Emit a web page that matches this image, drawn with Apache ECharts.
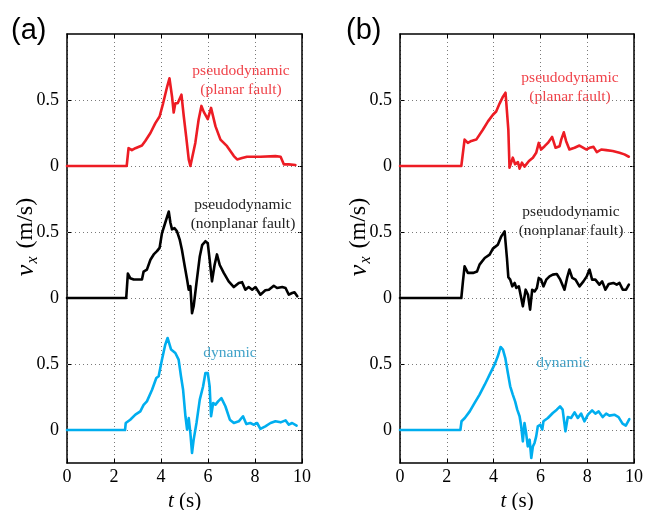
<!DOCTYPE html>
<html>
<head>
<meta charset="utf-8">
<script src="https://cdn.jsdelivr.net/npm/echarts@6/dist/echarts.min.js"></script>
<style>html,body{margin:0;padding:0;background:#fff}#c{width:647px;height:510px}</style>
</head>
<body>
<div id="c"></div>
<script>
// ---- data (t in s, v_x in m/s) ----
const xTicks = [0, 2, 4, 6, 8, 10];
const yTickValues = [0, 0.5, 1, 1.5, 2, 2.5];
const yTickLabels = ['0', '0.5', '0', '0.5', '0', '0.5'];
const traceOffsets = { planar: 2, nonplanar: 1, dynamic: 0 };

const planarA = [[0,0],[2.54,0],[2.62,0.135],[2.76,0.12],[2.91,0.135],[3.19,0.155],[3.33,0.19],[3.55,0.25],[3.76,0.325],[3.94,0.375],[4.09,0.475],[4.26,0.6],[4.36,0.665],[4.47,0.525],[4.54,0.405],[4.61,0.475],[4.71,0.475],[4.78,0.46],[4.87,0.54],[4.97,0.375],[5.07,0.225],[5.18,0.05],[5.25,0],[5.32,0.01],[5.46,0.175],[5.6,0.35],[5.72,0.455],[5.82,0.41],[5.99,0.355],[6.13,0.44],[6.32,0.3],[6.53,0.2],[6.81,0.15],[7.1,0.075],[7.24,0.05],[7.45,0.06],[7.66,0.07],[8.23,0.07],[8.87,0.075],[9.09,0.07],[9.23,0.012],[9.44,0.012],[9.72,0.008]];
const nonplanarA = [[0,0],[2.52,0],[2.59,0.185],[2.69,0.15],[2.84,0.14],[3.05,0.14],[3.19,0.14],[3.26,0.2],[3.4,0.215],[3.55,0.29],[3.69,0.33],[3.83,0.355],[3.94,0.38],[4.04,0.49],[4.18,0.57],[4.33,0.655],[4.4,0.57],[4.47,0.52],[4.57,0.53],[4.68,0.505],[4.8,0.44],[4.89,0.365],[5.01,0.24],[5.11,0.14],[5.18,0.063],[5.25,0.09],[5.32,-0.115],[5.39,-0.063],[5.51,0.114],[5.65,0.315],[5.75,0.4],[5.89,0.43],[5.99,0.415],[6.07,0.29],[6.17,0.126],[6.28,0.25],[6.38,0.33],[6.5,0.25],[6.67,0.19],[6.88,0.126],[7.1,0.083],[7.31,0.114],[7.45,0.12],[7.59,0.063],[7.73,0.083],[7.88,0.063],[8.02,0.083],[8.23,0.025],[8.44,0.058],[8.59,0.063],[8.8,0.093],[8.94,0.076],[9.16,0.083],[9.3,0.076],[9.44,0.025],[9.58,0.038],[9.68,0.043],[9.8,0.013]];
const dynamicA = [[0,0],[2.47,0],[2.5,0.053],[2.69,0.078],[2.91,0.116],[3.12,0.141],[3.26,0.19],[3.4,0.217],[3.62,0.305],[3.8,0.394],[3.9,0.407],[4.04,0.533],[4.18,0.646],[4.28,0.697],[4.35,0.697],[4.43,0.609],[4.61,0.583],[4.75,0.533],[4.85,0.407],[4.94,0.305],[5.04,0.104],[5.11,0.003],[5.18,0.09],[5.25,-0.023],[5.32,-0.174],[5.39,-0.073],[5.51,0.053],[5.65,0.23],[5.79,0.33],[5.89,0.432],[5.99,0.432],[6.07,0.33],[6.13,0.104],[6.22,0.205],[6.32,0.192],[6.43,0.217],[6.57,0.242],[6.74,0.18],[6.93,0.078],[7.1,0.053],[7.31,0.066],[7.49,0.104],[7.63,0.045],[7.8,0.053],[7.94,0.04],[8.09,0.053],[8.23,0.008],[8.44,0.028],[8.66,0.053],[8.87,0.066],[9.09,0.058],[9.3,0.073],[9.44,0.04],[9.58,0.053],[9.77,0.033]];

const planarB = [[0,0],[2.62,0],[2.76,0.2],[2.9,0.175],[3.05,0.19],[3.26,0.2],[3.33,0.21],[3.54,0.275],[3.76,0.338],[3.97,0.388],[4.11,0.413],[4.26,0.475],[4.4,0.525],[4.51,0.555],[4.57,0.55],[4.63,0.275],[4.68,-0.013],[4.75,-0.02],[4.82,0.063],[4.92,0.013],[5.04,0.03],[5.11,-0.02],[5.21,0.025],[5.32,-0.005],[5.51,0.038],[5.68,0.063],[5.82,0.1],[5.93,0.175],[6.03,0.125],[6.18,0.15],[6.32,0.175],[6.5,0.22],[6.65,0.138],[6.82,0.15],[6.89,0.2],[7.0,0.255],[7.1,0.188],[7.24,0.125],[7.46,0.138],[7.67,0.155],[7.84,0.138],[7.96,0.125],[8.1,0.138],[8.27,0.145],[8.41,0.105],[8.6,0.125],[8.81,0.12],[9.09,0.113],[9.38,0.1],[9.59,0.088],[9.78,0.07]];
const nonplanarB = [[0,0],[2.62,0],[2.69,0.126],[2.76,0.24],[2.9,0.19],[3.12,0.19],[3.29,0.2],[3.4,0.253],[3.62,0.303],[3.83,0.328],[3.97,0.374],[4.18,0.404],[4.33,0.467],[4.47,0.505],[4.51,0.49],[4.57,0.303],[4.63,0.157],[4.71,0.139],[4.8,0.088],[4.9,0.114],[4.97,0.076],[5.08,0.088],[5.18,0],[5.25,-0.063],[5.37,0.063],[5.47,0.025],[5.56,-0.088],[5.65,0.063],[5.75,0.05],[5.85,0.076],[5.93,0.152],[6.03,0.139],[6.13,0.088],[6.25,0.139],[6.39,0.164],[6.53,0.177],[6.7,0.182],[6.85,0.139],[7.03,0.063],[7.14,0.152],[7.24,0.215],[7.36,0.152],[7.5,0.139],[7.67,0.088],[7.84,0.126],[7.98,0.164],[8.1,0.215],[8.21,0.139],[8.35,0.139],[8.52,0.101],[8.64,0.126],[8.78,0.063],[8.92,0.106],[9.12,0.114],[9.26,0.101],[9.38,0.114],[9.52,0.063],[9.66,0.063],[9.78,0.101]];
const dynamicB = [[0,0],[2.58,0],[2.63,0.066],[2.77,0.091],[2.98,0.141],[3.19,0.205],[3.4,0.268],[3.62,0.343],[3.83,0.419],[4.04,0.495],[4.18,0.558],[4.3,0.629],[4.4,0.609],[4.5,0.545],[4.61,0.432],[4.71,0.331],[4.82,0.268],[4.92,0.217],[5.01,0.154],[5.11,0.104],[5.18,0.028],[5.25,-0.086],[5.32,0.053],[5.39,-0.023],[5.46,-0.124],[5.54,-0.073],[5.61,-0.212],[5.68,-0.124],[5.75,-0.098],[5.82,-0.048],[5.89,0.028],[5.99,0.04],[6.08,0.003],[6.13,0.066],[6.32,0.091],[6.53,0.129],[6.7,0.154],[6.84,0.179],[6.95,0.154],[7.07,-0.01],[7.17,0.098],[7.31,0.091],[7.46,0.134],[7.6,0.091],[7.74,0.124],[7.88,0.066],[8.03,0.116],[8.21,0.149],[8.35,0.124],[8.49,0.141],[8.66,0.098],[8.81,0.124],[8.95,0.109],[9.16,0.116],[9.34,0.098],[9.51,0.048],[9.65,0.033],[9.8,0.083]];

// ---- styling ----
const SERIF = '"Liberation Serif","DejaVu Serif",serif';
const SANS = '"Liberation Sans",Arial,sans-serif';
const RED = '#ed1c24', BLACK = '#000000', BLUE = '#00aeef';
const gridDot = { type: [1, 3], color: '#7a7a7a', width: 1 };

function shift(data, off) { return data.map(p => [p[0], p[1] + off]); }

const grids = [
  { left: 67, width: 235, top: 34, height: 429, containLabel: false, outerBoundsMode: 'none' },
  { left: 400, width: 234, top: 34, height: 429, containLabel: false, outerBoundsMode: 'none' }
];

const xAxes = [], yAxes = [], series = [];
[0, 1].forEach(g => {
  xAxes.push({
    type: 'value', gridIndex: g, min: 0, max: 10, interval: 2, position: 'bottom',
    axisLine: { show: true, onZero: false, lineStyle: { color: '#000', width: 1.5 } },
    axisTick: { show: true, inside: true, length: 4, lineStyle: { color: '#000' } },
    axisLabel: { show: true, margin: 5, color: '#000', fontFamily: SERIF, fontSize: 18 },
    splitLine: { show: true, lineStyle: gridDot },
    name: '{i|t} (s)', nameLocation: 'middle', nameGap: 28,
    nameTextStyle: { color: '#000', fontFamily: SERIF, fontSize: 21,
      rich: { i: { fontStyle: 'italic', fontFamily: SERIF, fontSize: 21, color: '#000' } } }
  });
  xAxes.push({
    type: 'value', gridIndex: g, min: 0, max: 10, interval: 2, position: 'top',
    axisLine: { show: true, onZero: false, lineStyle: { color: '#000', width: 1.5 } },
    axisTick: { show: true, inside: true, length: 4, lineStyle: { color: '#000' } },
    axisLabel: { show: false }, splitLine: { show: false }
  });
  yAxes.push({
    type: 'value', gridIndex: g, min: -0.25, max: 3, position: 'left',
    axisLine: { show: true, onZero: false, lineStyle: { color: '#000', width: 1.5 } },
    axisTick: { show: true, inside: true, length: 4, customValues: yTickValues, lineStyle: { color: '#000' } },
    axisLabel: { show: true, margin: 8, color: '#000', fontFamily: SERIF, fontSize: 18,
      customValues: yTickValues,
      formatter: v => { const i = yTickValues.findIndex(t => Math.abs(t - v) < 1e-6); return i >= 0 ? yTickLabels[i] : ''; } },
    splitLine: { show: false }
  });
  yAxes.push({
    type: 'value', gridIndex: g, min: -0.25, max: 3, position: 'right',
    axisLine: { show: true, onZero: false, lineStyle: { color: '#000', width: 1.5 } },
    axisTick: { show: true, inside: true, length: 4, customValues: yTickValues, lineStyle: { color: '#000' } },
    axisLabel: { show: false, customValues: yTickValues }, splitLine: { show: false }
  });
  // horizontal dotted grid lines
  series.push({
    type: 'line', xAxisIndex: g * 2, yAxisIndex: g * 2, data: [], z: 1, silent: true,
    markLine: { silent: true, symbol: 'none', label: { show: false }, lineStyle: gridDot,
      animation: false, data: yTickValues.map(y => ({ yAxis: y })) }
  });
});

const traces = [
  [planarA, traceOffsets.planar, RED, 0], [nonplanarA, traceOffsets.nonplanar, BLACK, 0], [dynamicA, traceOffsets.dynamic, BLUE, 0],
  [planarB, traceOffsets.planar, RED, 1], [nonplanarB, traceOffsets.nonplanar, BLACK, 1], [dynamicB, traceOffsets.dynamic, BLUE, 1]
];
traces.forEach(([d, off, col, g]) => {
  series.push({
    type: 'line', xAxisIndex: g * 2, yAxisIndex: g * 2, data: shift(d, off), z: 5,
    showSymbol: false, symbol: 'none', smooth: false,
    lineStyle: { color: col, width: 2.6, join: 'round', cap: 'round' }
  });
});

function txt(x, y, text, color, size, family, align) {
  return { type: 'text', x: x, y: y, silent: true,
    style: { text: text, fill: color, font: size + 'px ' + family, align: align || 'center', verticalAlign: 'middle', lineHeight: 19 } };
}
function ylab(x, y) {
  return { type: 'text', x: x, y: y, rotation: Math.PI / 2, silent: true,
    style: { text: '{i|v}{s|x}{n| (m/s)}', align: 'center', verticalAlign: 'middle',
      rich: {
        i: { fontStyle: 'italic', fontFamily: SERIF, fontSize: 26, fill: '#000', lineHeight: 30, verticalAlign: 'middle' },
        s: { fontStyle: 'italic', fontFamily: SERIF, fontSize: 16, fill: '#000', lineHeight: 30, verticalAlign: 'bottom', padding: [12, 2, 0, 1] },
        n: { fontFamily: SERIF, fontSize: 24, fill: '#000', lineHeight: 30, verticalAlign: 'middle' }
      } } };
}

const chart = echarts.init(document.getElementById('c'), null, { renderer: 'canvas' });
chart.setOption({
  animation: false,
  backgroundColor: '#fff',
  grid: grids,
  xAxis: xAxes,
  yAxis: yAxes,
  series: series,
  graphic: [
    txt(11, 31, '(a)', '#000', 29, SANS, 'left'),
    txt(346, 31, '(b)', '#000', 29, SANS, 'left'),
    ylab(26, 237),
    ylab(359, 237),
    txt(241, 80, 'pseudodynamic\n(planar fault)', '#f0434a', 15.5, SERIF),
    txt(570, 87, 'pseudodynamic\n(planar fault)', '#f0434a', 15.5, SERIF),
    txt(243, 214, 'pseudodynamic\n(nonplanar fault)', '#222', 15.5, SERIF),
    txt(571, 221, 'pseudodynamic\n(nonplanar fault)', '#222', 15.5, SERIF),
    txt(230, 353, 'dynamic', '#42a3c9', 15.5, SERIF),
    txt(563, 363, 'dynamic', '#42a3c9', 15.5, SERIF)
  ]
});
</script>
</body>
</html>
